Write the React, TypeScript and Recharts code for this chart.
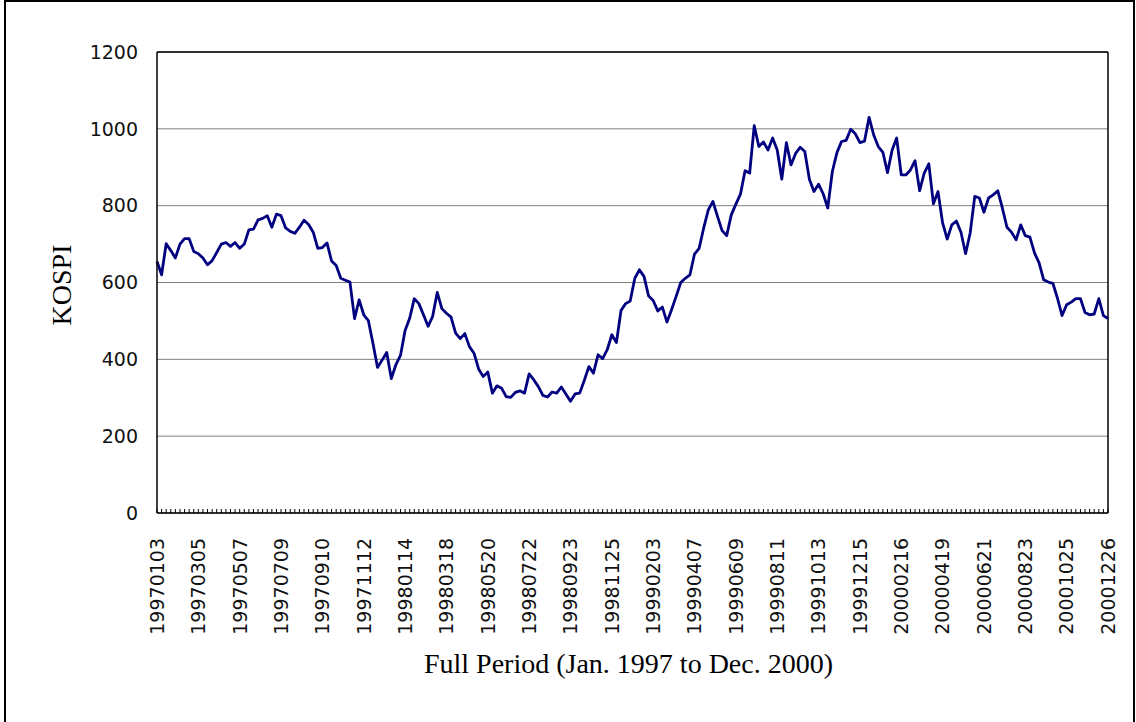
import { CartesianGrid, Line, LineChart, ReferenceLine, XAxis, YAxis } from "recharts";

// weekly KOSPI close, Jan 1997 - Dec 2000
const kospi = [
  655, 620, 701, 683, 664, 700, 714, 714, 681, 675,
  664, 646, 657, 678, 700, 704, 694, 704, 689, 700,
  737, 739, 763, 767, 774, 744, 778, 774, 742, 733,
  728, 744, 762, 751, 731, 689, 691, 703, 656, 644,
  611, 606, 601, 506, 555, 516, 501, 442, 379, 398,
  418, 350, 386, 410, 475, 507, 558, 545, 516, 486,
  512, 574, 532, 520, 510, 468, 454, 467, 433, 416,
  375, 355, 367, 312, 331, 325, 303, 301, 314, 318,
  312, 362, 347, 329, 306, 302, 315, 312, 328, 310,
  291, 310, 312, 345, 381, 364, 412, 402, 425, 464,
  444, 527, 545, 552, 611, 633, 616, 565, 553, 526,
  536, 497, 529, 564, 600, 611, 620, 674, 689, 742,
  789, 811, 772, 735, 722, 776, 804, 830, 891, 885,
  1008, 954, 966, 945, 976, 945, 869, 964, 906, 936,
  952, 941, 869, 837, 856, 831, 794, 889, 938, 967,
  970, 999, 987, 964, 968, 1030, 984, 954, 939, 886,
  944, 976, 880, 880, 893, 917, 839, 885, 909, 805,
  837, 755, 713, 750, 760, 731, 675, 729, 824, 820,
  783, 820, 828, 839, 794, 744, 731, 711, 750, 722,
  718, 677, 651, 607, 601, 598, 559, 514, 542, 549,
  558, 558, 522, 516, 518, 558, 514, 506,
];

// one label every 9th week
const dateLabels = [
  "19970103", "19970305", "19970507", "19970709", "19970910", "19971112",
  "19980114", "19980318", "19980520", "19980722", "19980923", "19981125",
  "19990203", "19990407", "19990609", "19990811", "19991013", "19991215",
  "20000216", "20000419", "20000621", "20000823", "20001025", "20001226",
];
const labelEvery = 9;

const yTicks = [0, 200, 400, 600, 800, 1000, 1200];

const data = kospi.map((v, i) => ({ i, v }));

const tickFont = { fill: "#111", fontSize: 19, fontFamily: "DejaVu Sans" };
const serif = "'Liberation Serif', 'Times New Roman', serif";

function DateTick(props: any) {
  const { x, y, payload } = props;
  const i = payload.value as number;
  const lbl = i % labelEvery === 0 ? dateLabels[i / labelEvery] : "";
  return (
    <g>
      <line x1={x} x2={x} y1={y} y2={y - 4} stroke="#000" strokeWidth={1} />
      {lbl && (
        <text transform={`translate(${x},${y + 25}) rotate(-90)`} textAnchor="end" dy="0.36em" {...tickFont}>
          {lbl}
        </text>
      )}
    </g>
  );
}

export default function App() {
  return (
    <div style={{ position: "absolute", left: 0, top: 0, width: 1136, height: 722, background: "#fff", overflow: "hidden" }}>
      <LineChart width={1136} height={722} data={data} margin={{ top: 52, right: 28, bottom: 0, left: 0 }}>
        <CartesianGrid vertical={false} stroke="#808080" strokeWidth={1} />
        <XAxis dataKey="i" type="category" interval={0} height={209} tickSize={0} tickMargin={0}
          axisLine={{ stroke: "#000", strokeWidth: 1.5 }} tickLine={false} tick={<DateTick />}
          label={(p: any) => {
            const vb = p.viewBox;
            return (
              <text x={vb.x + vb.width / 2 - 4} y={vb.y + 160} textAnchor="middle" fontFamily={serif} fontSize={28} fill="#000">
                Full Period (Jan. 1997 to Dec. 2000)
              </text>
            );
          }} />
        <YAxis type="number" domain={[0, 1200]} ticks={yTicks} width={157} tickSize={0} tickMargin={19}
          axisLine={{ stroke: "#000", strokeWidth: 1.5 }} tickLine={false} tick={tickFont}
          label={() => (
            <text transform="translate(71,285) rotate(-90)" textAnchor="middle" fontFamily={serif} fontSize={28} fill="#000">
              KOSPI
            </text>
          )} />
        <ReferenceLine y={1200} stroke="#000" strokeWidth={1.5} />
        <ReferenceLine x={kospi.length - 1} stroke="#000" strokeWidth={1.5} />
        <Line dataKey="v" stroke="#000080" strokeWidth={2.8} dot={false} strokeLinejoin="round"
          isAnimationActive={false} />
      </LineChart>
      <div style={{ position: "absolute", left: 4, top: 0, width: 1131, height: 740, border: "2px solid #000", boxSizing: "border-box", pointerEvents: "none" }} />
    </div>
  );
}
